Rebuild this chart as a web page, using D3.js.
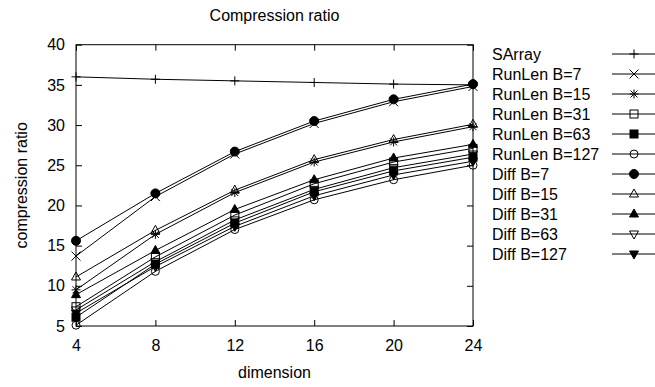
<!DOCTYPE html>
<html>
<head>
<meta charset="utf-8">
<script src="https://cdn.jsdelivr.net/npm/d3@7"></script>
<style>
  html, body { margin: 0; padding: 0; background: #fff; }
  svg { display: block; }
  text { font-family: "Liberation Sans", Arial, sans-serif; fill: #000; }
</style>
</head>
<body>
<svg id="chart" width="655" height="387"></svg>
<script>
// Compression ratio vs. dimension for each encoding
const dimensions = [4, 8, 12, 16, 20, 24];
const xTicks = [4, 8, 12, 16, 20, 24];
const yTicks = [5, 10, 15, 20, 25, 30, 35, 40];

const seriesNames = [
  "SArray", "RunLen B=7", "RunLen B=15", "RunLen B=31", "RunLen B=63", "RunLen B=127",
  "Diff B=7", "Diff B=15", "Diff B=31", "Diff B=63", "Diff B=127"
];
const seriesSymbols = [
  "plus", "cross", "star", "square", "squareFilled", "circle",
  "circleFilled", "triUp", "triUpFilled", "triDown", "triDownFilled"
];

const sArray      = [36.0, 35.7, 35.5, 35.3, 35.1, 35.0];
const runLen7     = [13.7, 21.1, 26.4, 30.2, 32.9, 34.8];
const runLen15    = [9.5, 16.4, 21.6, 25.4, 27.9, 29.8];
const runLen31    = [7.4, 13.6, 18.8, 22.7, 25.4, 27.1];
const runLen63    = [6.1, 12.7, 17.8, 21.7, 24.3, 26.0];
const runLen127   = [5.1, 11.8, 17.0, 20.7, 23.2, 25.0];
const diff7       = [15.6, 21.5, 26.7, 30.5, 33.2, 35.1];
const diff15      = [11.1, 16.9, 21.9, 25.7, 28.2, 30.1];
const diff31      = [8.9, 14.4, 19.5, 23.2, 25.9, 27.6];
const diff63      = [7.0, 13.0, 18.2, 22.0, 24.7, 26.4];
const diff127     = [6.6, 12.4, 17.4, 21.2, 23.8, 25.5];

const seriesValues = [sArray, runLen7, runLen15, runLen31, runLen63, runLen127,
                      diff7, diff15, diff31, diff63, diff127];

const svg = d3.select("#chart");
const plotLeft = 76, plotRight = 473, plotTop = 44.7, plotBottom = 326;
const fontSize = 16;

const x = d3.scaleLinear().domain([4, 24]).range([plotLeft, plotRight]);
const y = d3.scaleLinear().domain([5, 40]).range([plotBottom, plotTop]);

// Point glyphs in the style of gnuplot point types
function drawSymbol(g, type, cx, cy) {
  const s = g.append("g").attr("transform", `translate(${cx},${cy})`)
    .attr("stroke", "#000").attr("stroke-width", 1);
  const h = 4.5;
  switch (type) {
    case "plus":
      s.append("path").attr("d", `M${-h},0H${h}M0,${-h}V${h}`).attr("fill", "none"); break;
    case "cross":
      s.append("path").attr("d", `M${-h},${-h}L${h},${h}M${-h},${h}L${h},${-h}`).attr("fill", "none"); break;
    case "star":
      s.append("path").attr("d", `M${-h},0H${h}M0,${-h}V${h}M${-3.5},${-3.5}L3.5,3.5M-3.5,3.5L3.5,-3.5`).attr("fill", "none"); break;
    case "square":
      s.append("rect").attr("x", -4).attr("y", -4).attr("width", 8).attr("height", 8).attr("fill", "none"); break;
    case "squareFilled":
      s.append("rect").attr("x", -4).attr("y", -4).attr("width", 8).attr("height", 8).attr("fill", "#000"); break;
    case "circle":
      s.append("circle").attr("r", 4).attr("fill", "none"); break;
    case "circleFilled":
      s.append("circle").attr("r", 4.5).attr("fill", "#000"); break;
    case "triUp":
      s.append("path").attr("d", "M0,-5L4.5,3L-4.5,3Z").attr("fill", "none"); break;
    case "triUpFilled":
      s.append("path").attr("d", "M0,-5L4.5,3L-4.5,3Z").attr("fill", "#000"); break;
    case "triDown":
      s.append("path").attr("d", "M0,5L4.5,-3L-4.5,-3Z").attr("fill", "none"); break;
    case "triDownFilled":
      s.append("path").attr("d", "M0,5L4.5,-3L-4.5,-3Z").attr("fill", "#000"); break;
  }
}

// Axes: ticks point inward on all four sides
function styleAxis(g) {
  g.attr("font-family", null).attr("font-size", null);
  g.selectAll("text").style("font-size", fontSize + "px");
  g.selectAll("line").attr("stroke", "#000");
  g.select(".domain").remove();
}

svg.append("g").attr("transform", `translate(0,${plotBottom})`)
  .call(d3.axisBottom(x).tickValues(xTicks).tickSizeInner(-6).tickSizeOuter(0).tickPadding(13.6))
  .call(styleAxis);
svg.append("g").attr("transform", `translate(0,${plotTop})`)
  .call(d3.axisTop(x).tickValues(xTicks).tickSizeInner(-6).tickSizeOuter(0).tickFormat(""))
  .call(styleAxis);
svg.append("g").attr("transform", `translate(${plotLeft},0)`)
  .call(d3.axisLeft(y).tickValues(yTicks).tickSizeInner(-6).tickSizeOuter(0).tickPadding(11))
  .call(styleAxis);
svg.append("g").attr("transform", `translate(${plotRight},0)`)
  .call(d3.axisRight(y).tickValues(yTicks).tickSizeInner(-6).tickSizeOuter(0).tickFormat(""))
  .call(styleAxis);

// Plot border
svg.append("rect")
  .attr("x", plotLeft).attr("y", plotTop)
  .attr("width", plotRight - plotLeft).attr("height", plotBottom - plotTop)
  .attr("fill", "none").attr("stroke", "#000").attr("stroke-width", 1);

// Titles
svg.append("text").attr("x", (plotLeft + plotRight) / 2).attr("y", 21)
  .attr("text-anchor", "middle").style("font-size", fontSize + "px").text("Compression ratio");
svg.append("text").attr("x", (plotLeft + plotRight) / 2).attr("y", 378)
  .attr("text-anchor", "middle").style("font-size", fontSize + "px").text("dimension");
svg.append("text").attr("transform", `translate(27,${(plotTop + plotBottom) / 2}) rotate(-90)`)
  .attr("text-anchor", "middle").style("font-size", fontSize + "px").text("compression ratio");

// Series lines with point markers
const line = d3.line().x((d, i) => x(dimensions[i])).y(d => y(d));
const plot = svg.append("g");
seriesValues.forEach((vals, k) => {
  const g = plot.append("g");
  g.append("path").attr("d", line(vals))
    .attr("fill", "none").attr("stroke", "#000").attr("stroke-width", 1);
  vals.forEach((v, i) => drawSymbol(g, seriesSymbols[k], x(dimensions[i]), y(v)));
});

// Key
const key = svg.append("g");
seriesNames.forEach((name, k) => {
  const ly = 54 + 20 * k;
  key.append("text").attr("x", 492).attr("y", ly + 5.5)
    .style("font-size", fontSize + "px").text(name);
  key.append("line").attr("x1", 612).attr("x2", 656).attr("y1", ly).attr("y2", ly)
    .attr("stroke", "#000").attr("stroke-width", 1);
  drawSymbol(key, seriesSymbols[k], 634, ly);
});
</script>
</body>
</html>
